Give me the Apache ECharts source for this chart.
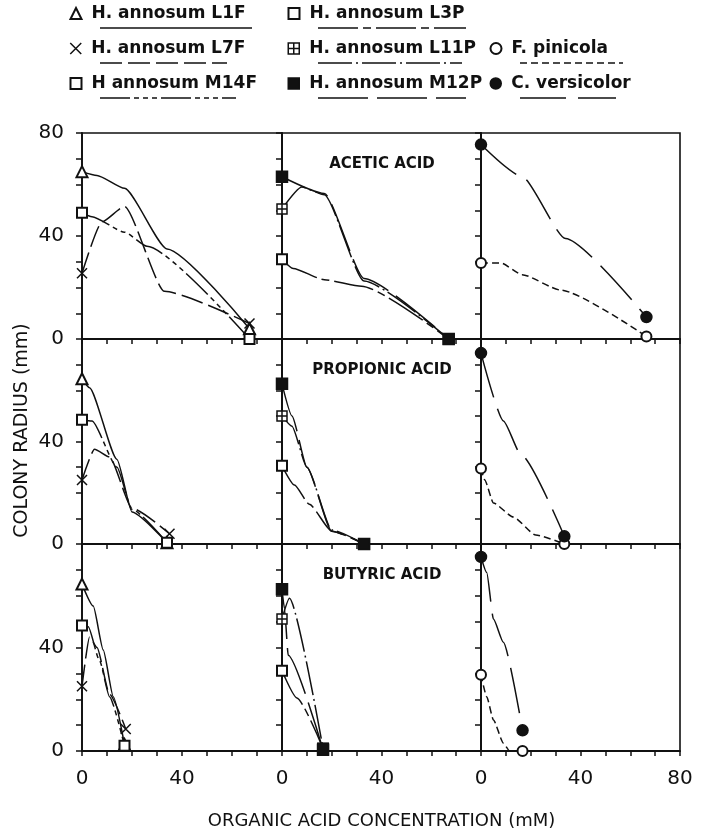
<!DOCTYPE html>
<html><head><meta charset="utf-8">
<script src="https://cdn.jsdelivr.net/npm/echarts@6/dist/echarts.min.js"></script>
<style>html,body{margin:0;padding:0;background:#fff}#c{width:708px;height:835px}</style>
</head><body><div id="c"></div>
<script>
// ---------------- DATA ----------------
const acidNames = ['ACETIC ACID', 'PROPIONIC ACID', 'BUTYRIC ACID'];
const yTickLabels = [0, 40, 80];
const xTickLabels = [0, 40, 80];
const yAxisTitle = 'COLONY RADIUS (mm)';
const xAxisTitle = 'ORGANIC ACID CONCENTRATION (mM)';

// Acetic acid
const aceticL1F  = [[0,65],[6,63.5],[17,58.5],[34,35],[67,4]];
const aceticL7F  = [[0,25.5],[8,45.5],[17,51.5],[33,18.5],[67,6]];
const aceticM14F = [[0,49],[4,47.5],[17,41.5],[26,36],[67,0]];
const aceticL3P  = [[0,31],[4.5,27.4],[17,23],[32,20.5],[67,0]];
const aceticL11P = [[0,50.5],[8,59],[17,56],[33,22.5],[67,0]];
const aceticM12P = [[0,63],[17,56.5],[33,23.5],[67,0]];
const aceticFp   = [[0,29.5],[8,29.5],[16.5,25],[32,19],[66.5,1]];
const aceticCv   = [[0,75.5],[16.5,63],[34,39],[66.5,8.5]];

// Propionic acid
const propionicL1F  = [[0,64.5],[3,61],[14,33],[20,12.5],[34,0.5]];
const propionicL7F  = [[0,25],[5,37],[11,34],[20,14],[35,4]];
const propionicM14F = [[0,48.5],[4,48],[14,30],[20,13.5],[34,0.5]];
const propionicL3P  = [[0,30.5],[5,23],[11,15.5],[20,5],[33,0]];
const propionicL11P = [[0,50],[4,46],[10,30],[20,5.5],[33,0]];
const propionicM12P = [[0,62.5],[4,50],[10,30],[20,5],[33,0]];
const propionicFp   = [[0,29.5],[1.5,25],[5,16],[13,10.5],[22,3.5],[33.5,0]];
const propionicCv   = [[0,74.5],[9,48],[16,35],[33.5,3]];

// Butyric acid
const butyricL1F  = [[0,64.5],[4.5,56],[8.5,39],[12.5,21],[17,2.5]];
const butyricL7F  = [[0,25],[3,44],[6,40],[11,22],[17.5,8.5]];
const butyricM14F = [[0,48.5],[2.5,48],[7,35],[11,21],[17,2]];
const butyricL3P  = [[0,31],[6,20.5],[16.5,1]];
const butyricL11P = [[0,51],[3,59],[16.5,1]];
const butyricM12P = [[0,62.5],[1,55],[2.5,37],[16.5,0.5]];
const butyricFp   = [[0,29.5],[2.3,21],[5,12],[9,3],[11.5,0],[16.7,0]];
const butyricCv   = [[0,75],[2.3,69],[5,51],[9,42],[16.7,8]];

// ---------------- STYLES ----------------
const FONT = 'DejaVu Sans';
const INK = '#111';
const X_PATH = 'path://M0,0L10,10M10,0L0,10';
const BOXPLUS = 'path://M0,0L10,0L10,10L0,10ZM5,0L5,10M0,5L10,5';
const strains = {
  L1F:  {name:'H. annosum L1F',  symbol:'emptyTriangle', fill:INK,    size:11, dash:'solid'},
  L7F:  {name:'H. annosum L7F',  symbol:X_PATH,          fill:INK,    size:10, dash:[22,6]},
  M14F: {name:'H annosum M14F',  symbol:'emptyRect',     fill:INK,    size:10, dash:[30,4,5,4,5,4,5,4]},
  L3P:  {name:'H. annosum L3P',  symbol:'emptyRect',     fill:INK,    size:10, dash:[40,5,8,5]},
  L11P: {name:'H. annosum L11P', symbol:BOXPLUS,         fill:'#fff', size:10, dash:[34,4,2,4]},
  M12P: {name:'H. annosum M12P', symbol:'rect',          fill:INK,    size:11, dash:[50,9]},
  Fp:   {name:'F. pinicola',     symbol:'emptyCircle',   fill:INK,    size:10, dash:[7,4]},
  Cv:   {name:'C. versicolor',   symbol:'circle',        fill:INK,    size:11, dash:[46,12]}
};

const panels = [
  [['L1F',aceticL1F],['L7F',aceticL7F],['M14F',aceticM14F]],
  [['L3P',aceticL3P],['L11P',aceticL11P],['M12P',aceticM12P]],
  [['Fp',aceticFp],['Cv',aceticCv]],
  [['L1F',propionicL1F],['L7F',propionicL7F],['M14F',propionicM14F]],
  [['L3P',propionicL3P],['L11P',propionicL11P],['M12P',propionicM12P]],
  [['Fp',propionicFp],['Cv',propionicCv]],
  [['L1F',butyricL1F],['L7F',butyricL7F],['M14F',butyricM14F]],
  [['L3P',butyricL3P],['L11P',butyricL11P],['M12P',butyricM12P]],
  [['Fp',butyricFp],['Cv',butyricCv]]
];

// ---------------- LAYOUT ----------------
const colLeft = [82, 282, 481];
const colW = [200, 199, 199];
const rowTop = [133, 339, 544];
const rowH = [206, 205, 207];

const grids = [], xAxes = [], yAxes = [], series = [];
for (let r = 0; r < 3; r++) {
  for (let c = 0; c < 3; c++) {
    const i = r * 3 + c;
    grids.push({left: colLeft[c], top: rowTop[r], width: colW[c], height: rowH[r],
      show: true, borderColor: INK, borderWidth: 1.6, backgroundColor: 'transparent', containLabel: false});
    const xa = {type: 'value', gridIndex: i, min: 0, max: 80, interval: 10,
      axisLine: {lineStyle: {color: INK, width: 1.8}},
      axisTick: {length: 5, lineStyle: {color: INK, width: 1.5}},
      splitLine: {show: false},
      axisLabel: {show: r === 2, margin: 18, color: INK, fontSize: 20, fontFamily: FONT,
        formatter: v => (xTickLabels.indexOf(v) >= 0 && (v < 80 || c === 2)) ? String(v) : ''}};
    if (i === 7) { Object.assign(xa, {name: xAxisTitle, nameLocation: 'middle', nameGap: 61,
      nameTextStyle: {color: INK, fontSize: 18, fontFamily: FONT}}); }
    xAxes.push(xa);
    const ya = {type: 'value', gridIndex: i, min: 0, max: 80, interval: 10,
      axisLine: {lineStyle: {color: INK, width: 1.8}},
      axisTick: {length: 6, lineStyle: {color: INK, width: 1.5}},
      splitLine: {show: false},
      axisLabel: {show: c === 0, margin: 18, color: INK, fontSize: 20, fontFamily: FONT,
        formatter: v => (yTickLabels.indexOf(v) >= 0 && (v < 80 || r === 0)) ? String(v) : ''}};
    if (i === 3) { Object.assign(ya, {name: yAxisTitle, nameLocation: 'middle', nameGap: 50, nameRotate: 90,
      nameTextStyle: {color: INK, fontSize: 19, fontFamily: FONT, padding: [0, 0, 0, 22]}}); }
    yAxes.push(ya);
    panels[i].forEach(([key, data]) => {
      const s = strains[key];
      const n = data.length;
      series.push({
        type: 'line', name: s.name, xAxisIndex: i, yAxisIndex: i, data: data,
        clip: false, smooth: 0.2, smoothMonotone: 'x', animation: false,
        symbol: (v, p) => (p.dataIndex === 0 || p.dataIndex === n - 1) ? s.symbol : 'none',
        symbolSize: s.size, showAllSymbol: true,
        lineStyle: {color: INK, width: 1.5, type: s.dash},
        itemStyle: {color: s.fill, borderColor: INK, borderWidth: 1.5},
        emphasis: {disabled: true}
      });
    });
  }
}

// legend entries: [strain key, marker centre x, row index, underline end x]
const legendRows = [16, 51, 86];
const legendItems = [
  ['L1F', 75, 0, 252], ['L3P', 293, 0, 466],
  ['L7F', 75, 1, 227], ['L11P', 293, 1, 462], ['Fp', 495, 1, 623],
  ['M14F', 75, 2, 236], ['M12P', 293, 2, 466], ['Cv', 495, 2, 616]
];
const legends = [], graphics = [];
legendItems.forEach(([key, mx, row, ux]) => {
  const s = strains[key];
  const y = legendRows[row];
  legends.push({
    data: [{name: s.name, icon: s.symbol, itemStyle: {color: s.fill, borderColor: INK, borderWidth: 1.5}}],
    left: mx - 5.5, top: y - 11, padding: 0, itemWidth: 11, itemHeight: 11, selectedMode: false,
    textStyle: {color: INK, fontSize: 17, fontWeight: 'bold', fontFamily: FONT, padding: [0, 0, 0, 5]}
  });
  graphics.push({type: 'line', shape: {x1: mx + 25, y1: y + 12, x2: ux, y2: y + 12},
    style: {stroke: INK, lineWidth: 1.6, lineDash: s.dash === 'solid' ? null : s.dash}});
});
acidNames.forEach((t, r) => {
  graphics.push({type: 'text', x: 382, y: rowTop[r] + 31,
    style: {text: t, font: 'bold 15px "DejaVu Sans"', fill: INK, textAlign: 'center', textVerticalAlign: 'middle'}});
});

const chart = echarts.init(document.getElementById('c'), null, {renderer: 'canvas'});
chart.setOption({
  backgroundColor: '#fff', animation: false,
  grid: grids, xAxis: xAxes, yAxis: yAxes, series: series,
  legend: legends, graphic: graphics
});
</script></body></html>
